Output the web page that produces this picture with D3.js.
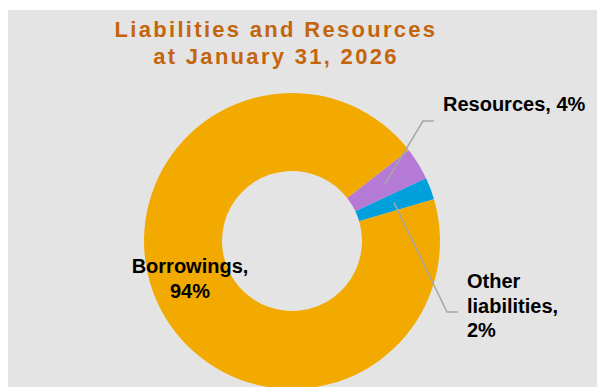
<!DOCTYPE html>
<html>
<head>
<meta charset="utf-8">
<script src="https://cdn.jsdelivr.net/npm/d3@7"></script>
<style>
  html, body { margin: 0; padding: 0; background: #fff; }
  svg { display: block; }
  text { font-family: "Liberation Sans", Arial, sans-serif; font-weight: bold; }
</style>
</head>
<body>
<div id="chart"></div>
<script>
// data (clockwise order, starting at the Resources slice)
const categories = ['Resources', 'Other liabilities', 'Borrowings'];
const shares     = [3.6, 2.4, 94.0];
const labelLines = [['Resources, 4%'], ['Other', 'liabilities,', '2%'], ['Borrowings,', '94%']];
const colors     = ['#b57ad6', '#00a0dd', '#f2aa00'];
const titleLines = ['Liabilities and Resources', 'at January 31, 2026'];

const W = 598, H = 387;
const cx = 292, cy = 241;
const outerR = 148, innerR = 70;

const svg = d3.select('#chart').append('svg')
  .attr('width', W).attr('height', H);

// grey panel
svg.append('rect')
  .attr('x', 8).attr('y', 10)
  .attr('width', 589).attr('height', H - 10)
  .attr('fill', '#e4e4e4');

// title
svg.append('text')
  .attr('x', 276).attr('y', 37)
  .attr('text-anchor', 'middle')
  .attr('fill', '#c4650e')
  .style('font-size', '22px')
  .style('letter-spacing', '2.3px')
  .selectAll('tspan')
  .data(titleLines)
  .join('tspan')
    .attr('x', 276)
    .attr('dy', (d, i) => i ? 27 : 0)
    .text(d => d);

// pie
const startA = 52 * Math.PI / 180;
const pie = d3.pie().sort(null)
  .startAngle(startA).endAngle(startA + 2 * Math.PI)
  .value(d => d.v);
const arc = d3.arc().innerRadius(innerR).outerRadius(outerR);

const slices = pie(categories.map((c, i) => ({ c, v: shares[i], i })));

const g = svg.append('g').attr('transform', `translate(${cx},${cy})`);
g.selectAll('path')
  .data(slices)
  .join('path')
    .attr('d', arc)
    .attr('fill', d => colors[d.data.i]);

// leader lines for the small slices (elbow + end in page coords)
const leaders = {
  'Resources':         { elbow: [423, 121], end: [434, 121] },
  'Other liabilities': { elbow: [447, 312], end: [458, 312] }
};
slices.filter(d => leaders[d.data.c]).forEach(d => {
  const [px, py] = arc.centroid(d);
  const L = leaders[d.data.c];
  svg.append('polyline')
    .attr('points', [[cx + px, cy + py], L.elbow, L.end].map(p => p.join(',')).join(' '))
    .attr('fill', 'none')
    .attr('stroke', '#a6a6a6')
    .attr('stroke-width', 1.5);
});

// labels
const labelPos = {
  'Resources':         { x: 443, y: 111, anchor: 'start', lh: 24.5 },
  'Other liabilities': { x: 467, y: 288, anchor: 'start', lh: 24.5 },
  'Borrowings':        { x: 190, y: 273, anchor: 'middle', lh: 25 }
};
categories.forEach((c, i) => {
  const p = labelPos[c];
  svg.append('text')
    .attr('x', p.x).attr('y', p.y)
    .attr('text-anchor', p.anchor)
    .attr('fill', '#000')
    .style('font-size', '20px')
    .selectAll('tspan')
    .data(labelLines[i])
    .join('tspan')
      .attr('x', p.x)
      .attr('dy', (d, j) => j ? p.lh : 0)
      .text(d => d);
});
</script>
</body>
</html>
